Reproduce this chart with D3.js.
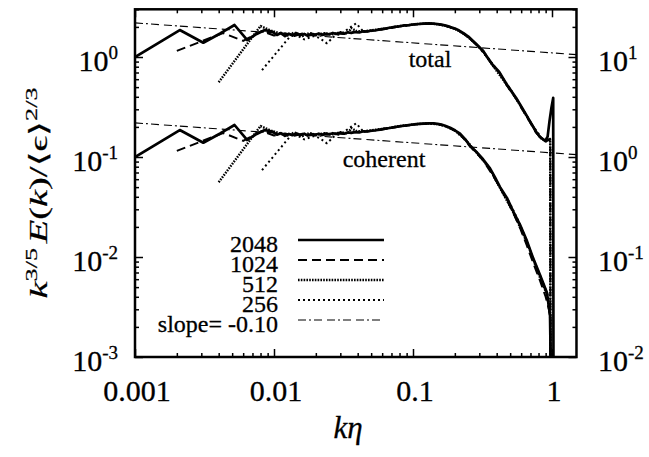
<!DOCTYPE html>
<html>
<head>
<meta charset="utf-8">
<script src="https://cdn.jsdelivr.net/npm/d3@7"></script>
<style>
  body { margin: 0; background: #fff; }
</style>
</head>
<body>
<div id="chart"></div>
<script>
// spectra, [k*eta, k^(3/5) E(k) / <eps>^(2/3)]
const tot2048 = [[0.001,1.00],[0.0021,1.86],[0.0031,1.39],[0.0041,1.72],[0.0052,2.09],[0.0064,1.48],[0.0075,1.70],[0.0086,1.86],[0.0097,1.80],
  [0.0105,1.66],[0.0112,1.74],[0.012,1.62],[0.0128,1.71],[0.0136,1.64],[0.0145,1.73],[0.0155,1.66],[0.0165,1.70],[0.0175,1.63],[0.0186,1.71],
  [0.0198,1.67],[0.021,1.72],[0.0223,1.66],[0.0237,1.71],[0.025,1.69],[0.0265,1.74],[0.028,1.70],[0.03,1.75],[0.032,1.71],[0.034,1.77],
  [0.036,1.74],[0.038,1.79],[0.041,1.76],[0.044,1.81],[0.047,1.80],[0.05,1.84],[0.054,1.85],[0.058,1.89],[0.063,1.92],[0.068,1.96],
  [0.074,2.00],[0.08,2.03],[0.087,2.07],[0.094,2.09],[0.102,2.12],[0.11,2.14],[0.12,2.16],[0.13,2.17],[0.14,2.16],[0.15,2.14],[0.16,2.11],
  [0.172,2.06],[0.185,2.00],[0.2,1.93],[0.215,1.84],[0.232,1.72],[0.25,1.60],[0.268,1.46],[0.285,1.35],[0.32,1.15],[0.345,0.98],
  [0.371,0.85],[0.417,0.71],[0.469,0.54],[0.552,0.39],[0.61,0.31],[0.685,0.235],[0.769,0.178],[0.822,0.158],[0.893,0.145],[0.93,0.16],
  [0.96,0.23],[0.99,0.31],[1.02,0.39],[1.025,0.0003]];
const tot1024 = [[0.002,1.15],[0.0043,1.74],[0.006,1.45],[0.0082,1.82],[0.010,1.64],[0.012,1.73],[0.014,1.62],[0.016,1.72],[0.018,1.65],
  [0.021,1.70],[0.024,1.67],[0.028,1.72],[0.032,1.70],[0.037,1.76],[0.042,1.77],[0.048,1.81],[0.055,1.86],[0.063,1.91],[0.072,1.97],
  [0.082,2.03],[0.094,2.08],[0.108,2.13],[0.124,2.16],[0.14,2.15],[0.16,2.10],[0.185,1.99],[0.215,1.82],[0.25,1.58],[0.285,1.33],
  [0.32,1.13],[0.371,0.84],[0.417,0.70],[0.469,0.53],[0.552,0.38],[0.61,0.30],[0.685,0.23],[0.769,0.175],[0.85,0.152],[0.91,0.143],
  [0.95,0.15],[0.972,0.14],[0.975,0.0003]];
const tot512 = [[0.004,0.56],[0.008,2.04],[0.0095,1.84],[0.011,1.72],[0.0125,1.64],[0.014,1.76],[0.016,1.62],[0.018,1.74],[0.02,1.66],
  [0.023,1.73],[0.026,1.68],[0.03,1.77],[0.034,1.72],[0.036,1.95],[0.039,1.82],[0.044,1.80],[0.05,1.85],[0.058,1.90],[0.068,1.96],
  [0.08,2.04],[0.094,2.09],[0.11,2.14],[0.13,2.16],[0.15,2.13],[0.172,2.05],[0.2,1.92],[0.232,1.71],[0.268,1.45],[0.32,1.14],
  [0.371,0.84],[0.469,0.535],[0.552,0.385],[0.685,0.232],[0.822,0.156],[0.9,0.144],[0.95,0.155],[0.97,0.15],[0.975,0.0003]];
const tot256 = [[0.0082,0.74],[0.0137,1.74],[0.0165,1.50],[0.0195,1.62],[0.0214,1.54],[0.024,1.37],[0.027,1.60],[0.031,1.74],[0.036,2.01],
  [0.039,2.17],[0.043,1.86],[0.048,1.80],[0.055,1.86],[0.064,1.92],[0.075,1.99],[0.088,2.06],[0.104,2.12],[0.12,2.15],[0.14,2.15],
  [0.165,2.08],[0.2,1.92],[0.24,1.66],[0.285,1.34],[0.345,0.98],[0.417,0.70],[0.5,0.48],[0.6,0.32],[0.72,0.21],[0.85,0.152],
  [0.93,0.146],[0.97,0.15],[0.975,0.0003]];

const coh2048 = [[0.001,0.100],[0.0021,0.186],[0.0031,0.139],[0.0041,0.172],[0.0052,0.209],[0.0064,0.148],[0.0075,0.170],[0.0086,0.186],
  [0.0097,0.180],[0.0105,0.167],[0.0112,0.173],[0.012,0.163],[0.0128,0.170],[0.0136,0.165],[0.0145,0.172],[0.0155,0.166],[0.0165,0.171],
  [0.0175,0.164],[0.0186,0.170],[0.0198,0.167],[0.021,0.171],[0.0223,0.166],[0.0237,0.172],[0.025,0.169],[0.0265,0.173],[0.028,0.170],
  [0.03,0.175],[0.032,0.171],[0.034,0.176],[0.036,0.174],[0.038,0.178],[0.041,0.176],[0.044,0.181],[0.047,0.180],[0.05,0.183],
  [0.054,0.185],[0.058,0.188],[0.063,0.192],[0.068,0.195],[0.074,0.199],[0.08,0.203],[0.087,0.206],[0.094,0.209],[0.102,0.212],
  [0.11,0.214],[0.12,0.216],[0.13,0.217],[0.14,0.217],[0.15,0.215],[0.16,0.211],[0.172,0.204],[0.185,0.196],[0.2,0.185],[0.218,0.171],
  [0.237,0.151],[0.257,0.130],[0.285,0.113],[0.319,0.095],[0.358,0.077],[0.39,0.062],[0.423,0.050],[0.474,0.039],[0.53,0.028],
  [0.589,0.021],[0.66,0.0145],[0.73,0.0098],[0.82,0.0066],[0.92,0.0044],[0.968,0.0026],[0.99,0.0003]];
const coh1024 = [[0.002,0.115],[0.0043,0.174],[0.006,0.145],[0.0082,0.182],[0.010,0.164],[0.012,0.172],[0.014,0.163],[0.016,0.171],
  [0.018,0.165],[0.021,0.170],[0.024,0.167],[0.028,0.172],[0.032,0.170],[0.037,0.176],[0.042,0.177],[0.048,0.181],[0.055,0.186],
  [0.063,0.191],[0.072,0.197],[0.082,0.203],[0.094,0.208],[0.108,0.213],[0.124,0.216],[0.14,0.216],[0.16,0.210],[0.185,0.195],
  [0.218,0.169],[0.257,0.128],[0.319,0.093],[0.39,0.060],[0.474,0.037],[0.53,0.027],[0.589,0.0195],[0.66,0.013],[0.73,0.0088],
  [0.82,0.0058],[0.9,0.0040],[0.95,0.0030],[0.972,0.0025],[0.975,0.0003]];
const coh512 = [[0.004,0.056],[0.008,0.204],[0.0095,0.184],[0.011,0.172],[0.0125,0.164],[0.014,0.176],[0.016,0.162],[0.018,0.174],
  [0.02,0.166],[0.023,0.173],[0.026,0.168],[0.03,0.177],[0.034,0.172],[0.036,0.195],[0.039,0.182],[0.044,0.180],[0.05,0.185],
  [0.058,0.190],[0.068,0.196],[0.08,0.204],[0.094,0.209],[0.11,0.214],[0.13,0.216],[0.15,0.213],[0.172,0.203],[0.2,0.184],
  [0.237,0.150],[0.285,0.112],[0.358,0.076],[0.423,0.049],[0.53,0.0275],[0.66,0.014],[0.82,0.0062],[0.92,0.0042],[0.97,0.0026],
  [0.975,0.0003]];
const coh256 = [[0.0082,0.074],[0.0137,0.174],[0.0165,0.150],[0.0195,0.162],[0.0214,0.154],[0.024,0.137],[0.027,0.160],[0.031,0.174],
  [0.036,0.201],[0.039,0.217],[0.043,0.186],[0.048,0.180],[0.055,0.186],[0.064,0.192],[0.075,0.199],[0.088,0.206],[0.104,0.212],
  [0.12,0.215],[0.14,0.215],[0.165,0.207],[0.2,0.184],[0.24,0.148],[0.285,0.112],[0.345,0.082],[0.417,0.051],[0.5,0.034],
  [0.6,0.020],[0.72,0.0102],[0.85,0.0058],[0.93,0.0042],[0.97,0.0026],[0.975,0.0003]];

// slope -0.10 reference lines (end points)
const slopeTot = [[0.001,2.195],[1.5,1.056]];
const slopeCoh = [[0.001,0.2195],[1.5,0.1056]];

const xMajor = [0.001, 0.01, 0.1, 1];
const xTickLabels = ['0.001', '0.01', '0.1', '1'];
const yMajor = [0.001, 0.01, 0.1, 1];
const yExp = ['-3', '-2', '-1', '0'];
const yRMajor = [0.01, 0.1, 1, 10];
const yRExp = ['-2', '-1', '0', '1'];
const legendNames = ['2048', '1024', '512', '256', 'slope= -0.10'];

let w = 649, h = 457;
let padL = 135, padT = 9.3, padB = 357;
let serif = "'Liberation Serif', 'Times New Roman', Times, 'DejaVu Serif', serif";

let svg = d3.select('#chart').append('svg')
  .attr('width', w).attr('height', h)
  .attr('font-family', serif);

let x = d3.scaleLog().domain([0.001, 1.5]).range([padL, padL + 139 * Math.log10(1500)]);
let y = d3.scaleLog().domain([0.001, 3]).range([padB, padT]);
let yR = d3.scaleLog().domain([0.01, 30]).range([padB, padT]);
let padR = x.range()[1];

function minors(lo, hi) {
  let out = [];
  for (let d = lo; d < hi; d *= 10)
    for (let m = 2; m <= 9; m++) if (m * d <= hi) out.push(m * d);
  return out;
}
let xMinor = minors(0.001, 1.5);
let yMinor = minors(0.001, 3);
let yRMinor = minors(0.01, 30);

svg.append('defs').append('clipPath').attr('id', 'clip')
  .append('rect').attr('x', padL).attr('y', padT)
  .attr('width', padR - padL).attr('height', padB - padT);

// ticks, all drawn inward
function ticks(axis, tr) {
  let g = svg.append('g').attr('transform', tr).call(axis);
  g.select('.domain').remove();
  g.selectAll('line').attr('stroke', '#000').attr('stroke-width', 1.5);
  g.selectAll('text').remove();
}
ticks(d3.axisBottom(x).tickValues(xMajor).tickSize(-8), 'translate(0,' + padB + ')');
ticks(d3.axisBottom(x).tickValues(xMinor).tickSize(-4), 'translate(0,' + padB + ')');
ticks(d3.axisTop(x).tickValues(xMajor).tickSize(-8), 'translate(0,' + padT + ')');
ticks(d3.axisTop(x).tickValues(xMinor).tickSize(-4), 'translate(0,' + padT + ')');
ticks(d3.axisLeft(y).tickValues(yMajor).tickSize(-8), 'translate(' + padL + ',0)');
ticks(d3.axisLeft(y).tickValues(yMinor).tickSize(-4), 'translate(' + padL + ',0)');
ticks(d3.axisRight(yR).tickValues(yRMajor).tickSize(-8), 'translate(' + padR + ',0)');
ticks(d3.axisRight(yR).tickValues(yRMinor).tickSize(-4), 'translate(' + padR + ',0)');

// scanned-looking text: thin stroke thickens the glyphs a little
function txt(xp, yp, size, anchor) {
  return svg.append('text').attr('x', xp).attr('y', yp)
    .attr('font-family', serif).attr('font-size', size)
    .attr('text-anchor', anchor).attr('fill', '#000')
    .attr('stroke', '#000').attr('stroke-width', 0.3);
}

// tick labels
xMajor.forEach((d, i) => txt(x(d) + 2, 401, 30, 'middle').text(xTickLabels[i]));

function powLabel(pos, e, xpos, anchor) {
  let t = txt(xpos, pos + 14, 30, anchor);
  t.append('tspan').text('10');
  t.append('tspan').attr('dy', -12).attr('font-size', 19).text(e);
}
yMajor.forEach((d, i) => powLabel(y(d), yExp[i], 118, 'end'));
yRMajor.forEach((d, i) => powLabel(yR(d), yRExp[i], 598, 'start'));

// curves
let line = d3.line().x(d => x(d[0])).y(d => y(d[1]));
let styles = [
  {dash: null, width: 2.7},
  {dash: '9,5', width: 2},
  {dash: '1.6,1.2', width: 2.4},
  {dash: '2,3', width: 2},
  {dash: '8,3,2,3,8,5', width: 1.1}
];
let plot = svg.append('g').attr('clip-path', 'url(#clip)');
let curves = [
  [tot256, 3], [tot512, 2], [tot1024, 1], [tot2048, 0],
  [coh256, 3], [coh512, 2], [coh1024, 1], [coh2048, 0],
  [slopeTot, 4], [slopeCoh, 4]
];
curves.forEach(c => {
  plot.append('path').attr('d', line(c[0]))
    .attr('fill', 'none').attr('stroke', '#000')
    .attr('stroke-width', styles[c[1]].width)
    .attr('stroke-dasharray', styles[c[1]].dash)
    .attr('stroke-linejoin', 'round');
});

// frame
svg.append('rect').attr('x', padL).attr('y', padT)
  .attr('width', padR - padL).attr('height', padB - padT)
  .attr('fill', 'none').attr('stroke', '#000').attr('stroke-width', 2.5);

// curve labels
txt(430, 67, 24, 'middle').text('total');
txt(384, 167, 24, 'middle').text('coherent');

// legend
legendNames.forEach((name, i) => {
  let by = 252 + i * 20;
  txt(278, by, 24, 'end').text(name);
  svg.append('line').attr('x1', 298).attr('x2', 384)
    .attr('y1', by - 12).attr('y2', by - 12)
    .attr('stroke', '#000').attr('stroke-width', styles[i].width)
    .attr('stroke-dasharray', styles[i].dash);
});

// axis titles
txt(348, 438, 31, 'middle').attr('font-style', 'italic').text('kη');

let yt = svg.append('text').attr('transform', 'translate(47,87.5) rotate(-90)')
  .attr('x', -211).attr('y', 0)
  .attr('font-family', serif).attr('font-size', 25)
  .attr('stroke', '#000').attr('stroke-width', 0.2)
  .attr('textLength', 211).attr('lengthAdjust', 'spacingAndGlyphs');
yt.append('tspan').attr('font-style', 'italic').text('k');
yt.append('tspan').attr('dy', -10).attr('font-size', 17).text('3/5');
yt.append('tspan').attr('dy', 10).attr('dx', 3).attr('font-style', 'italic').text('E');
yt.append('tspan').text('(');
yt.append('tspan').attr('font-style', 'italic').text('k');
yt.append('tspan').text(')/⟨ϵ⟩');
yt.append('tspan').attr('dy', -10).attr('font-size', 17).text('2/3');
</script>
</body>
</html>
